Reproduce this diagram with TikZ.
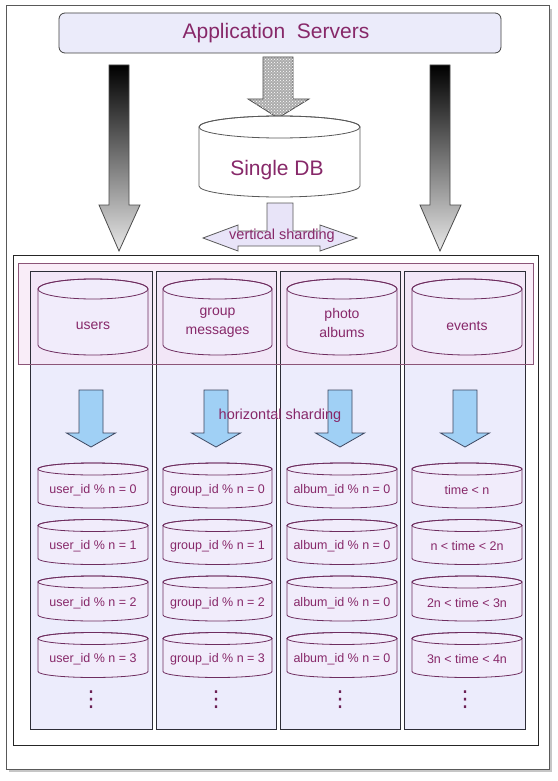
\documentclass[tikz,border=0pt]{standalone}
\usepackage{fontspec}
\setmainfont{Liberation Sans}
\newfontfamily\dejavu{DejaVu Sans}
\usetikzlibrary{patterns}
\definecolor{txt}{RGB}{135,40,105}
\definecolor{cylline}{RGB}{110,45,95}
\definecolor{lav}{RGB}{236,236,252}
\definecolor{cylfillc}{RGB}{241,236,251}
\definecolor{pinkband}{RGB}{246,226,244}
\definecolor{bandline}{RGB}{140,85,120}
\definecolor{colline}{RGB}{45,45,55}
\definecolor{bluefill}{RGB}{160,208,245}
\definecolor{blueline}{RGB}{60,70,95}
\definecolor{appfill}{RGB}{235,235,250}
\definecolor{vsfill}{RGB}{232,228,248}
\newcommand{\cyl}[5]{%
  \path[cylshape] ({#1-#4},#2) -- ({#1-#4},#3)
    arc[start angle=180,end angle=0,x radius=#4,y radius=#5]
    -- ({#1+#4},#2)
    arc[start angle=0,end angle=-180,x radius=#4,y radius=#5] -- cycle;
  \draw[cylshape,fill=none] (#1,#2) ellipse[x radius=#4,y radius=#5];}
\begin{document}
\begin{tikzpicture}[x=1pt,y=-1pt,
  cylshape/.style={draw=cylline,fill=cylfillc,line width=0.8pt},
  bigtxt/.style={text=txt,font=\fontsize{21}{25}\selectfont,inner sep=0pt},
  midtxt/.style={text=txt,font=\fontsize{14}{19}\selectfont,inner sep=0pt,align=center},
  smalltxt/.style={text=txt,font=\fontsize{12.5}{15}\selectfont,inner sep=0pt},
  dotstxt/.style={text=txt!80!black,font=\dejavu\fontsize{22}{24}\selectfont,inner sep=0pt},
  gradarrow/.style={top color=black,bottom color=gray!18,draw=black!70,line width=0.8pt},
  bluearrow/.style={fill=bluefill,draw=blueline,line width=0.8pt},
  colbox/.style={draw=colline,line width=1pt},
]
\useasboundingbox (0,0) rectangle (557,781);
% outer frame with shadow
\fill[gray!45] (9,9) rectangle (552,772);
\draw[gray!70!black,fill=white,line width=1pt] (6,6) rectangle (549,769);

% application servers
\node[draw=black!75,fill=appfill,rounded corners=6pt,line width=0.8pt,
      minimum width=442pt,minimum height=40pt] (appbox) at (280,33) {};
\node[bigtxt] (app) at (276,33) {Application\ \ Servers};

% gradient arrows
\path[gradarrow] (109,65) -- (129,65) -- (129,205) -- (140,205) -- (119,251)
   -- (99,205) -- (109,205) -- cycle;
\path[gradarrow] (430,65) -- (450,65) -- (450,205) -- (461,205) -- (440,251)
   -- (420,205) -- (430,205) -- cycle;

% patterned arrow
\draw[fill=gray!65,draw=black!70,line width=0.8pt,
      postaction={pattern=crosshatch dots,pattern color=white}]
  (263,57) -- (293,57) -- (293,99) -- (309,99) -- (278,118) -- (248,99)
  -- (263,99) -- cycle;

% single DB
\begin{scope}[cylshape/.style={draw=black!65,fill=white,line width=0.8pt}]
\cyl{279.5}{127}{186}{80.5}{11}
\end{scope}
\node[bigtxt] (db) at (277,170) {Single DB};

% vertical sharding arrow
\draw[fill=vsfill,draw=black!65,line width=0.8pt]
  (267,203) -- (293,203) -- (293,231) -- (320,231) -- (320,225) -- (357,238)
  -- (320,251) -- (320,246) -- (238,246) -- (238,251) -- (203,238)
  -- (238,225) -- (238,231) -- (267,231) -- cycle;
\node[text=txt,font=\fontsize{14.5}{17}\selectfont,inner sep=0pt] (vs) at (282,236) {vertical sharding};

% inner box
\draw[black!85,fill=white,line width=1pt] (13,255) rectangle (538,745);
% columns fill
\foreach \a/\b in {30/152,156/276,280/400,404/525}
  \fill[lav] (\a,271) rectangle (\b,729);
% pink band
\fill[pinkband,fill opacity=0.6] (18,263) rectangle (533,364);
\foreach \a/\b in {30/152,156/276,280/400,404/525}
  \draw[colbox] (\a,271) rectangle (\b,729);
\draw[bandline,line width=0.9pt] (18,263) rectangle (533,364);

% top row cylinders
\cyl{93}{289}{345}{55}{10}
\cyl{217.5}{289}{345}{54.5}{10}
\cyl{342}{289}{345}{55}{10}
\cyl{467}{289}{345}{55}{10}
\node[midtxt] (users) at (93,326) {users};
\node[midtxt] (groups) at (217.5,322.5) {group\\messages};
\node[midtxt] (photos) at (342,322.5) {photo\\albums};
\node[midtxt] (events) at (467,326) {events};

% blue arrows
\foreach \x in {91,216,340,465}
  \draw[bluearrow] (\x-12,390) -- (\x+12,390) -- (\x+12,433) -- (\x+24.5,433)
     -- (\x,447) -- (\x-24.5,433) -- (\x-12,433) -- cycle;
\node[text=txt,font=\fontsize{14.5}{17}\selectfont,inner sep=0pt] (hs) at (280,416) {horizontal sharding};

% lower cylinders
\foreach \i in {0,1,2,3}{
  \pgfmathsetmacro{\yt}{469+56.5*\i}
  \pgfmathsetmacro{\yb}{\yt+33}
  \cyl{93}{\yt}{\yb}{55}{6}
  \cyl{217.5}{\yt}{\yb}{54.5}{6}
  \cyl{342}{\yt}{\yb}{55}{6}
  \cyl{467}{\yt}{\yb}{55}{6}
  \node[smalltxt] (u\i) at (93,\yt+21) {user\_id \% n = \i};
  \node[smalltxt] (g\i) at (217.5,\yt+21) {group\_id \% n = \i};
  \node[smalltxt] (a\i) at (342,\yt+21) {album\_id \% n = 0};
}
\node[smalltxt] (t0) at (467,490) {time < n};
\node[smalltxt] (t1) at (467,546.5) {n < time < 2n};
\node[smalltxt] (t2) at (467,603) {2n < time < 3n};
\node[smalltxt] (t3) at (467,659.5) {3n < time < 4n};

% dots
\node[dotstxt] (d1) at (91,700) {⋮};
\node[dotstxt] (d2) at (216,700) {⋮};
\node[dotstxt] (d3) at (340,700) {⋮};
\node[dotstxt] (d4) at (465,700) {⋮};
\end{tikzpicture}
\end{document}
